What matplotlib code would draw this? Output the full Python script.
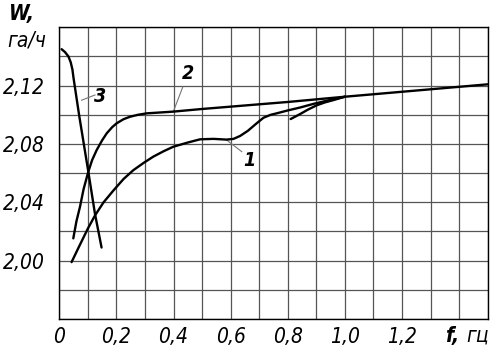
import matplotlib
matplotlib.use("Agg")
import matplotlib.pyplot as plt

# ---- data ----
curve1_x = [0.043, 0.07, 0.10, 0.125, 0.155, 0.189, 0.225, 0.259, 0.295, 0.329, 0.365, 0.399,
            0.45, 0.493, 0.54, 0.586, 0.61, 0.633, 0.66, 0.69, 0.715, 0.74, 0.761, 0.80,
            0.843, 0.89, 0.937, 1.0]
curve1_y = [1.999, 2.010, 2.022, 2.031, 2.040, 2.048, 2.056, 2.062, 2.067, 2.0713, 2.075, 2.0781,
            2.081, 2.0832, 2.0835, 2.0830, 2.0835, 2.0855, 2.089, 2.094, 2.098, 2.100, 2.101, 2.103,
            2.105, 2.1075, 2.1097, 2.1124]

curve2_x = [0.049, 0.06, 0.0725, 0.085, 0.1016, 0.115, 0.131, 0.15, 0.166, 0.185, 0.201, 0.225,
            0.248, 0.275, 0.306, 0.40, 0.50, 0.60, 0.70, 0.80, 0.90, 1.0, 1.2, 1.5]
curve2_y = [2.0153, 2.027, 2.037, 2.049, 2.061, 2.069, 2.0759, 2.0825, 2.0873, 2.0915, 2.0942, 2.097,
            2.0987, 2.100, 2.101, 2.1022, 2.104, 2.1056, 2.1072, 2.1088, 2.1106, 2.1124, 2.1158, 2.1209]

curve3_x = [0.008, 0.02, 0.032, 0.040, 0.046, 0.05, 0.07, 0.1016, 0.125, 0.148]
curve3_y = [2.145, 2.143, 2.140, 2.136, 2.131, 2.125, 2.099, 2.061, 2.032, 2.009]

curve4_x = [0.81, 0.843, 0.87, 0.901, 0.93, 0.96, 1.0]
curve4_y = [2.0971, 2.1005, 2.1035, 2.1065, 2.1085, 2.1101, 2.1124]

x_ticks = [0, 0.2, 0.4, 0.6, 0.8, 1.0, 1.2]
x_tick_labels = ["0", "0,2", "0,4", "0,6", "0,8", "1,0", "1,2"]
y_ticks = [2.00, 2.04, 2.08, 2.12]
y_tick_labels = ["2,00", "2,04", "2,08", "2,12"]

curve_labels = ["1", "2", "3"]
label_pos = [(0.665, 2.069), (0.452, 2.1285), (0.143, 2.1124)]
leader_start = [(0.586, 2.0827), (0.399, 2.1021), (0.078, 2.110)]
leader_end = [(0.639, 2.0747), (0.432, 2.1189), (0.125, 2.1136)]

plt.rcParams['font.family'] = ['DejaVu Sans']

fig = plt.figure(figsize=(4.95, 3.52), dpi=100)
ax = fig.add_axes([59.3 / 495, 1 - 319 / 352, (487.7 - 59.3) / 495, (319 - 27.3) / 352])

ax.set_xlim(0, 1.5)
ax.set_ylim(1.96, 2.16)

# grid
for i in range(16):
    ax.axvline(i * 0.1, color="#555555", lw=0.9, zorder=1)
for j in range(11):
    ax.axhline(1.96 + j * 0.02, color="#555555", lw=0.9, zorder=1)

lw = 1.7
for xs, ys in [(curve1_x, curve1_y), (curve2_x, curve2_y), (curve3_x, curve3_y), (curve4_x, curve4_y)]:
    ax.plot(xs, ys, color="black", lw=lw, solid_joinstyle="round", solid_capstyle="round", zorder=3)

for lab, pos, s, e in zip(curve_labels, label_pos, leader_start, leader_end):
    ax.plot([s[0], e[0]], [s[1], e[1]], color="#777777", lw=0.8, zorder=2)
    ax.text(pos[0], pos[1], lab, ha="center", va="center", fontsize=14, style="italic",
            fontweight="bold", fontstretch="condensed", zorder=4)

ax.set_xticks(x_ticks)
ax.set_xticklabels(x_tick_labels)
ax.set_yticks(y_ticks)
ax.set_yticklabels(y_tick_labels)
ax.tick_params(length=0, labelsize=15)
for t in ax.get_xticklabels() + ax.get_yticklabels():
    t.set_style("italic")
    t.set_fontstretch("condensed")
ax.tick_params(axis="y", pad=10)
ax.tick_params(axis="x", pad=6)

for sp in ax.spines.values():
    sp.set_color("black")
    sp.set_linewidth(1.0)

fig.text(445 / 495, 1 - 336 / 352, "f,", fontsize=15, style="italic", fontweight="bold",
         fontstretch="condensed", ha="left", va="center")
fig.text(466 / 495, 1 - 336 / 352, "гц", fontsize=15, style="italic", fontstretch="condensed",
         ha="left", va="center")
fig.text(22 / 495, 1 - 14 / 352, "W,", fontsize=15, style="italic", fontweight="bold",
         fontstretch="condensed", ha="center", va="center")
fig.text(27 / 495, 1 - 41 / 352, "га/ч", fontsize=15, style="italic", fontstretch="condensed",
         ha="center", va="center")

fig.savefig("out.png", dpi=100)
